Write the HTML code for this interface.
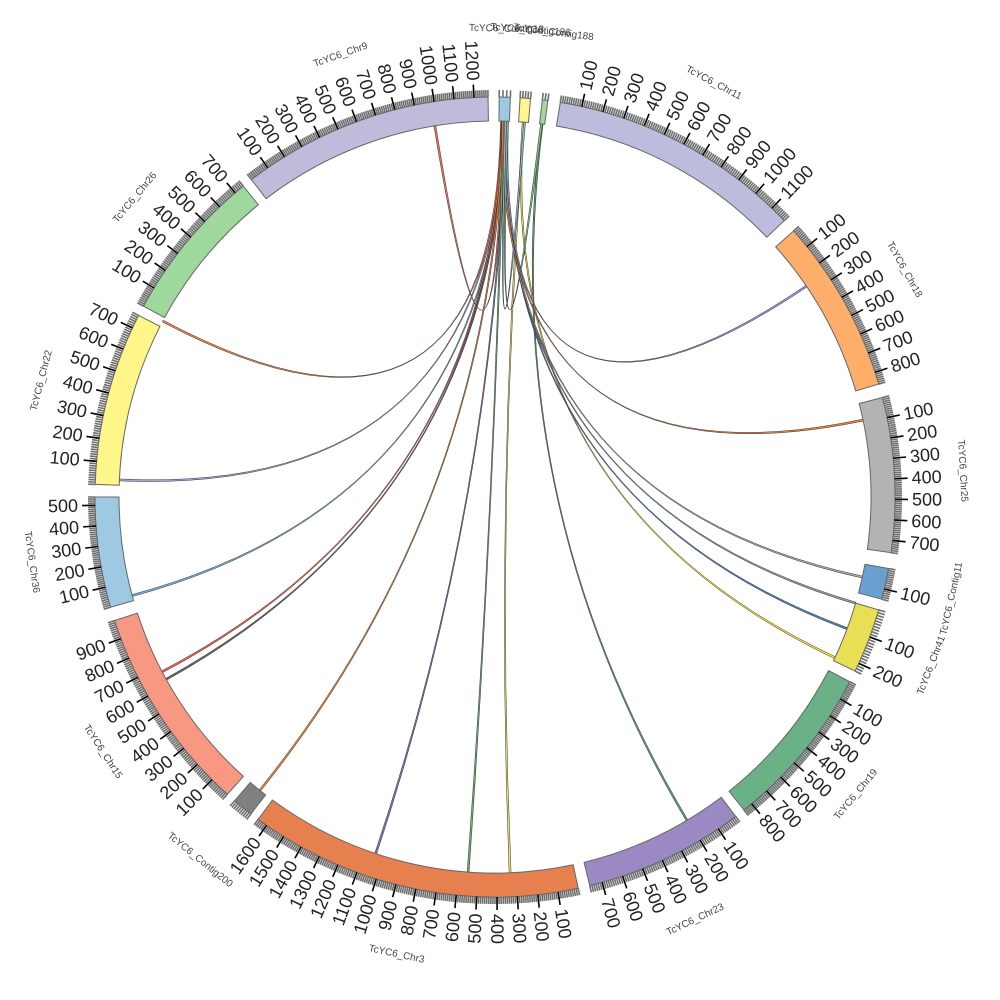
<!DOCTYPE html>
<html><head><meta charset="utf-8"><style>
html,body{margin:0;padding:0;background:#fff;}
svg{display:block;}
text{font-family:"Liberation Sans",sans-serif;}
</style></head><body>
<svg id="s" width="1000" height="1000" viewBox="0 0 1000 1000" xmlns="http://www.w3.org/2000/svg"></svg>
<script>
var cx=495,cy=497,R0=376,R1=400;
var S=document.getElementById('s');
function P(r,t){var a=t*Math.PI/180;return [cx+r*Math.sin(a),cy-r*Math.cos(a)];}
function el(n,at,txt){var e=document.createElementNS('http://www.w3.org/2000/svg',n);for(var k in at)e.setAttribute(k,at[k]);if(txt!=null)e.textContent=txt;S.appendChild(e);return e;}
var chrs=[
["TcYC6_Contig13",0.6,2.2,30,"#9ecae1"],
["TcYC6_Contig186",3.6,5.1,40,"#fff68f"],
["TcYC6_Contig188",6.8,7.6,20,"#a1d99b"],
["TcYC6_Chr11",9.4,46.3,1180,"#bcbddc"],
["TcYC6_Chr18",48.3,73.6,860,"#fdae6b"],
["TcYC6_Chr25",75.6,98,760,"#b3b3b3"],
["TcYC6_Contig11",100.3,104.8,150,"#6a9fd2"],
["TcYC6_Chr41",106.4,115.8,230,"#e9df55"],
["TcYC6_Chr19",117.5,141.5,850,"#6ab187"],
["TcYC6_Chr23",143,166.3,760,"#9a89c2"],
["TcYC6_Chr3",168,216.3,1650,"#e6814f"],
["TcYC6_Contig200",217.6,220.6,90,"#808080"],
["TcYC6_Chr15",222,252,990,"#f99882"],
["TcYC6_Chr36",254,270,540,"#9dc9e3"],
["TcYC6_Chr22",271.8,297,760,"#fff68a"],
["TcYC6_Chr26",298.5,321,750,"#9fd89c"],
["TcYC6_Chr9",322.5,359,1270,"#bfbbda"]];
var links=[
[1.2,350.8,"#f07060"],[1.0,297.9,"#f08040"],[1.3,272.6,"#b0a0d8"],[1.5,254.8,"#7ab0d8"],
[1.1,242.3,"#f06050"],[1.4,241,"#666"],[1.2,218.7,"#e8803a"],[1.6,198.5,"#8070c0"],
[1.3,184.1,"#6ab070"],[4.4,177.7,"#f0e060"],[7.2,149.3,"#5aa070"],[4.3,115.3,"#f0e040"],
[1.8,110.5,"#4a80c0"],[1.7,106.4,"#999"],[1.5,102.3,"#aaa"],[1.2,78.2,"#f08040"],
[1.9,55.9,"#a090d0"],[7.1,1.9,"#80c080"],[4.5,1.6,"#8ab8e0"]];
links.forEach(function(l){
 var w=0.15,a=P(R0,l[0]-w),b=P(R0,l[0]+w),c=P(R0,l[1]-w),d=P(R0,l[1]+w);
 var dd="M"+a+" A"+R0+","+R0+" 0 0,1 "+b+" Q"+cx+","+cy+" "+c+" A"+R0+","+R0+" 0 0,1 "+d+" Q"+cx+","+cy+" "+a+"Z";
 el('path',{d:dd,fill:l[2],stroke:"#333","stroke-width":0.5});
});
chrs.forEach(function(c){
 var s=c[1],e=c[2],L=c[3];
 var a=P(R0,s),b=P(R1,s),d=P(R1,e),f=P(R0,e);var lg=(e-s)>180?1:0;
 var g="";
 for(var u=0;u<=L;u+=10){var t=s+(e-s)*u/L;var p=P(R1,t),q=P(R1+7,t);g+="M"+p+"L"+q;}
 el('path',{d:g,stroke:"#6e6e6e","stroke-width":1.6,fill:"none"});
 el('path',{d:"M"+a+"L"+b+"A"+R1+","+R1+" 0 "+lg+",1 "+d+"L"+f+"A"+R0+","+R0+" 0 "+lg+",0 "+a+"Z",fill:c[4],stroke:"#666","stroke-width":1});
 for(var u=100;u<L;u+=100){
  var t=s+(e-s)*u/L;var p=P(R1,t),q=P(R1+13,t);
  el('line',{x1:p[0],y1:p[1],x2:q[0],y2:q[1],stroke:"#000","stroke-width":1.6});
  var lp=P(R1+17,t);var rot,anc;
  if(t<180){rot=t-90;anc="start";}else{rot=t+90;anc="end";}
  el('text',{x:lp[0],y:lp[1],"font-size":18,fill:"#222","text-anchor":anc,"dominant-baseline":"central",transform:"rotate("+rot+" "+lp[0]+" "+lp[1]+")"},String(u));
 }
 var m=(s+e)/2;var np=P(468,m);var r2=(m>90&&m<270)?m-180:m;
 el('text',{x:np[0],y:np[1],"font-size":10,fill:"#444","text-anchor":"middle","dominant-baseline":"central",transform:"rotate("+r2+" "+np[0]+" "+np[1]+")"},c[0]);
});
</script>
</body></html>
